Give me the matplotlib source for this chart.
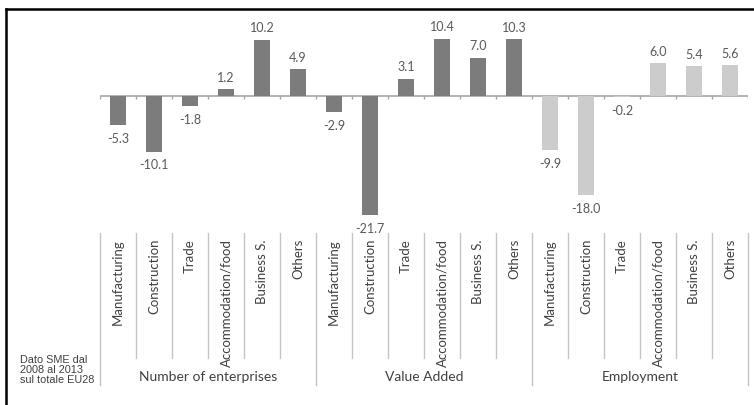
import matplotlib.pyplot as plt
import matplotlib.transforms as mtransforms
from matplotlib.lines import Line2D

sectors = ["Manufacturing", "Construction", "Trade", "Accommodation/food",
           "Business S.", "Others"]
groups = ["Number of enterprises", "Value Added", "Employment"]

enterprises = [-5.3, -10.1, -1.8, 1.2, 10.2, 4.9]
value_added = [-2.9, -21.7, 3.1, 10.4, 7.0, 10.3]
employment = [-9.9, -18.0, -0.2, 6.0, 5.4, 5.6]

note = "Dato SME dal\n2008 al 2013\nsul totale EU28"

dark = "#7c7c7c"
light = "#cccccc"

values = enterprises + value_added + employment
colors = [dark] * 12 + [light] * 6
labels = sectors * 3
x = list(range(len(values)))

W, H = 754, 405
fig = plt.figure(figsize=(W / 100, H / 100), dpi=100)
fig.patch.set_facecolor("white")

# axes placed in pixel terms: zero line at y=96, ~5.5 px per unit
ymin, ymax = -22.5, 13.0
ppu = 5.5
top_px = 96 - ymax * ppu
bot_px = 96 - ymin * ppu
ax = fig.add_axes([100 / W, 1 - bot_px / H, 648 / W, (bot_px - top_px) / H])
ax.set_xlim(-0.5, len(values) - 0.5)
ax.set_ylim(ymin, ymax)
ax.axis("off")

ax.bar(x, values, width=0.45, color=colors, zorder=2)
ax.axhline(0, color="#a6a6a6", lw=1.2, zorder=1)
ax.vlines([i - 0.5 for i in range(len(values) + 1)], -0.6, 0,
          color="#a6a6a6", lw=1.0, zorder=1)

for xi, v in zip(x, values):
    if v >= 0:
        ax.text(xi, v + 1.0, f"{v:.1f}", ha="center", va="bottom",
                fontsize=9, color="#595959", family="Lato")
    else:
        ax.text(xi, v - 1.4, f"{v:.1f}", ha="center", va="top",
                fontsize=9, color="#595959", family="Lato")

# category labels and separators below the plot
trans = mtransforms.blended_transform_factory(ax.transData, fig.transFigure)
for xi, lab in zip(x, labels):
    ax.text(xi, 1 - 239 / H, lab, rotation=90, ha="center", va="top",
            fontsize=9.5, color="#404040", family="Lato",
            transform=trans, clip_on=False)

for i in range(len(values) + 1):
    bottom = 385 if i % 6 == 0 else 358
    fig.add_artist(Line2D([i - 0.5, i - 0.5], [1 - 233 / H, 1 - bottom / H],
                          transform=trans, color="#c4c4c4", lw=1.0))

for g, name in enumerate(groups):
    ax.text(g * 6 + 2.5, 1 - 377 / H, name, ha="center", va="center",
            fontsize=10, color="#404040", family="Lato",
            transform=trans, clip_on=False)

fig.text(20 / W, 1 - 370 / H, note, ha="left", va="center", fontsize=7.8,
         color="#404040", family="Liberation Sans", linespacing=1.0)

# frame edges on the left and top
fig.add_artist(Line2D([6 / W, 6 / W], [0, 1 - 9 / H], transform=fig.transFigure,
                      color="black", lw=1.8))
fig.add_artist(Line2D([6 / W, 1], [1 - 9 / H, 1 - 9 / H],
                      transform=fig.transFigure, color="black", lw=1.8))

fig.savefig("out.png", dpi=100, facecolor="white")
